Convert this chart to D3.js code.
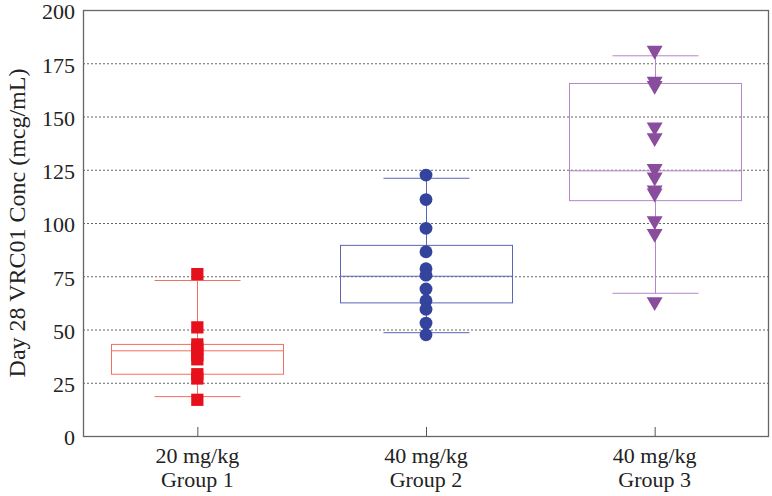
<!DOCTYPE html>
<html>
<head>
<meta charset="utf-8">
<script src="https://cdn.jsdelivr.net/npm/d3@7"></script>
<style>
  body { margin: 0; background: #fff; }
  text { font-family: "Liberation Serif", "DejaVu Serif", serif; fill: #222; }
</style>
</head>
<body>
<div id="chart"></div>
<script>
// Groups and labels
const groups = ["Group 1", "Group 2", "Group 3"];
const doses = ["20 mg/kg", "40 mg/kg", "40 mg/kg"];
const yTicks = [0, 25, 50, 75, 100, 125, 150, 175, 200];

// Individual values
const group1 = [76, 51, 43, 41, 38, 36, 29, 27, 17];
const group2 = [122.5, 111, 97.5, 86.5, 78.5, 75.5, 69, 63.5, 59.5, 53, 47.5];
const group3 = [181, 166.5, 164.5, 145, 140, 125.5, 121.5, 115.5, 114, 101, 95, 63];

// Box stats [whiskerLow, q1, median, q3, whiskerHigh]
const box1 = [18.5, 29, 40, 43, 73];
const box2 = [48.5, 62.5, 75, 89.5, 121];
const box3 = [67, 110.5, 124.5, 165.5, 178.5];

const pointColors = ["#e60f1c", "#34449c", "#8a4c9d"];
const boxColors = ["#f2705f", "#5b66b9", "#b686cc"];

const data = groups.map((g, i) => ({
    group: g,
    dose: doses[i],
    values: [group1, group2, group3][i],
    box: [box1, box2, box3][i],
    shape: [d3.symbolSquare, d3.symbolCircle, d3.symbolTriangle][i]
}));

const margin = { top: 10, right: 3, bottom: 60, left: 83 };
const width = 772 - margin.left - margin.right;
const height = 496 - margin.top - margin.bottom;

const svg = d3.select("#chart")
    .append("svg")
    .attr("width", 772)
    .attr("height", 496)
  .append("g")
    .attr("transform", `translate(${margin.left}, ${margin.top})`);

const x = d3.scalePoint().domain(groups).range([0, width]).padding(0.5);
const y = d3.scaleLinear().domain([0, 200]).range([height, 0]);

// Grid lines
svg.append("g")
    .selectAll("line")
    .data(yTicks.filter(t => t > 0 && t < 200))
    .enter()
    .append("line")
    .attr("x1", 0)
    .attr("x2", width)
    .attr("y1", d => y(d) + 0.5)
    .attr("y2", d => y(d) + 0.5)
    .attr("stroke", "#666")
    .attr("stroke-width", 1.2)
    .attr("stroke-dasharray", "2,2");

// Y axis labels
svg.append("g")
    .call(d3.axisLeft(y).tickValues(yTicks).tickSize(0).tickPadding(8))
    .call(g => g.select(".domain").remove())
    .selectAll("text")
    .attr("dy", "0.4em")
    .style("font-size", "22px")
    .style("font-family", "Liberation Serif, serif")
    .attr("fill", "#222");

// X axis ticks (inward) and two-line labels
const xAxis = svg.append("g")
    .attr("transform", `translate(0, ${height})`);
xAxis.selectAll("line")
    .data(groups)
    .enter()
    .append("line")
    .attr("x1", d => x(d) + 0.5)
    .attr("x2", d => x(d) + 0.5)
    .attr("y1", 0)
    .attr("y2", -9)
    .attr("stroke", "#555");
xAxis.selectAll("text.dose")
    .data(data)
    .enter()
    .append("text")
    .attr("class", "dose")
    .attr("x", d => x(d.group))
    .attr("y", 27)
    .attr("text-anchor", "middle")
    .style("font-size", "22px")
    .text(d => d.dose);
xAxis.selectAll("text.grp")
    .data(data)
    .enter()
    .append("text")
    .attr("class", "grp")
    .attr("x", d => x(d.group))
    .attr("y", 51)
    .attr("text-anchor", "middle")
    .style("font-size", "22px")
    .text(d => d.group);

// Box plots
const boxW = 172;
const capW = 86;
svg.selectAll(".box")
    .data(data)
    .enter()
    .append("g")
    .attr("class", "box")
    .each(function(d, i) {
        const g = d3.select(this);
        const cx = Math.round(x(d.group)) + 0.5;
        const [lo, q1, med, q3, hi] = d.box;
        const col = boxColors[i];
        g.append("line")
            .attr("x1", cx).attr("x2", cx)
            .attr("y1", y(hi)).attr("y2", y(q3))
            .attr("stroke", col);
        g.append("line")
            .attr("x1", cx).attr("x2", cx)
            .attr("y1", y(q1)).attr("y2", y(lo))
            .attr("stroke", col);
        g.append("rect")
            .attr("x", cx - boxW / 2)
            .attr("y", y(q3))
            .attr("width", boxW)
            .attr("height", y(q1) - y(q3))
            .attr("fill", "none")
            .attr("stroke", col);
        g.append("line")
            .attr("x1", cx - boxW / 2).attr("x2", cx + boxW / 2)
            .attr("y1", y(med)).attr("y2", y(med))
            .attr("stroke", col);
        [lo, hi].forEach(v => {
            g.append("line")
                .attr("x1", cx - capW / 2).attr("x2", cx + capW / 2)
                .attr("y1", y(v)).attr("y2", y(v))
                .attr("stroke", col);
        });
    });

// Points
const symSize = [150, 130, 110];
svg.selectAll(".pts")
    .data(data)
    .enter()
    .append("g")
    .attr("class", "pts")
    .each(function(d, i) {
        const sym = d3.symbol().type(d.shape).size(symSize[i]);
        d3.select(this).selectAll("path")
            .data(d.values)
            .enter()
            .append("path")
            .attr("d", sym)
            .attr("transform", v => `translate(${x(d.group)}, ${y(v)})` + (i === 2 ? " rotate(180)" : ""))
            .attr("fill", pointColors[i]);
    });

// Frame
svg.append("rect")
    .attr("x", 0.5)
    .attr("y", 0.5)
    .attr("width", width - 1)
    .attr("height", height)
    .attr("fill", "none")
    .attr("stroke", "#666")
    .attr("stroke-width", 1.3);

// Y axis title
svg.append("text")
    .attr("transform", `translate(${-58}, ${height / 2}) rotate(-90)`)
    .attr("text-anchor", "middle")
    .style("font-size", "24px")
    .text("Day 28 VRC01 Conc (mcg/mL)");
</script>
</body>
</html>
